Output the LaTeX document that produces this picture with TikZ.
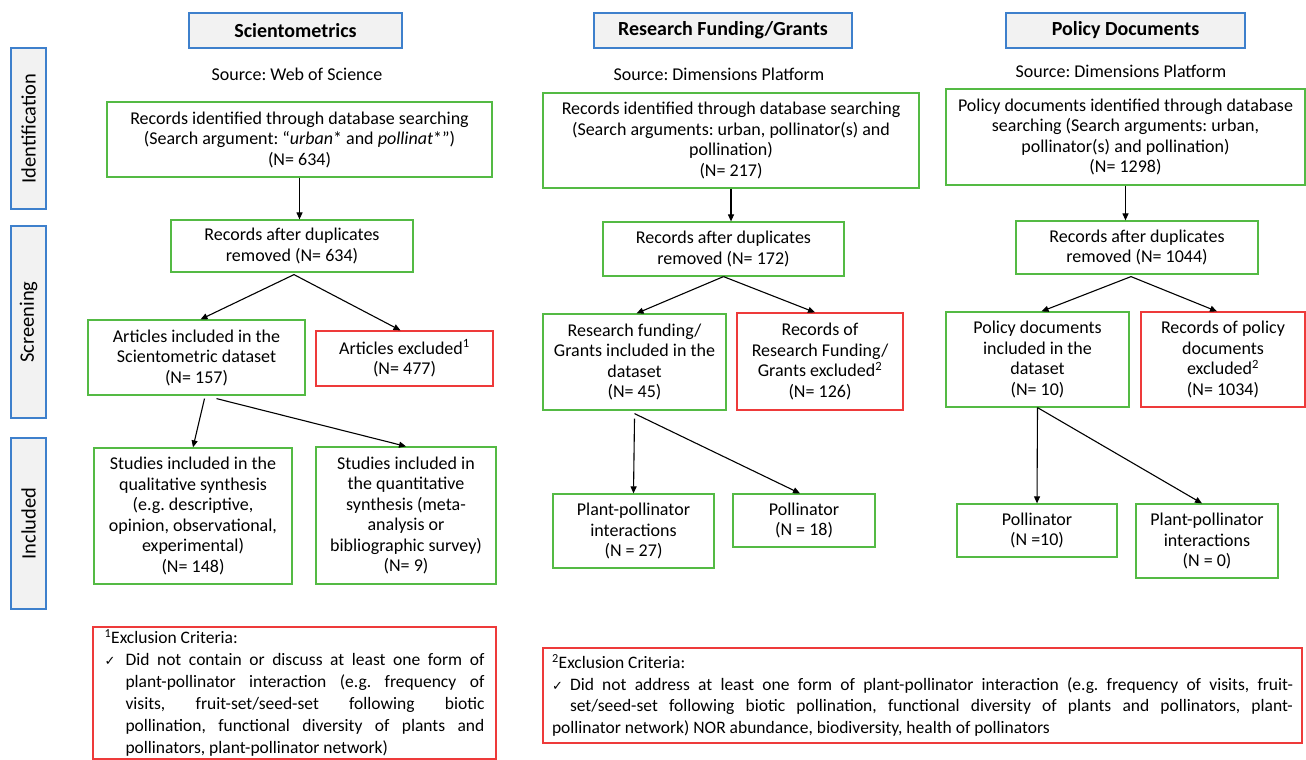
\documentclass[tikz,border=0pt]{standalone}
\usepackage{fontspec}
\setmainfont{Carlito}
\newfontfamily\chkfont{DejaVu Sans}
\usetikzlibrary{arrows.meta}
\definecolor{boxgreen}{RGB}{84,186,68}
\definecolor{boxred}{RGB}{238,58,58}
\definecolor{boxblue}{RGB}{62,128,204}
\definecolor{boxgray}{RGB}{242,242,242}
\newcommand{\chk}{{\chkfont\fontsize{13}{13}\selectfont ✓}}
\frenchspacing

\begin{document}
\begin{tikzpicture}[
	x=1pt,y=-1pt,
	font=\fontsize{18}{20.5}\selectfont,
	inc/.style={draw=boxgreen,line width=1.2pt,align=center,inner sep=0pt},
	exc/.style={draw=boxred,line width=1.2pt,align=center,inner sep=0pt},
	stage/.style={draw=boxblue,fill=boxgray,line width=1.2pt,rotate=90,inner sep=0pt,minimum height=35,font=\fontsize{20.5}{22}\selectfont},
	head/.style={draw=boxblue,fill=boxgray,line width=1.2pt,minimum height=35,inner sep=0pt,font=\fontsize{20}{22}\selectfont\bfseries},
	flow/.style={-{Triangle[length=7pt,width=6pt]},line width=1.1pt}]
\useasboundingbox (0,0) rectangle (1306,760);

% stages
\node[stage,minimum width=161] (ident) at (28.5,128.5) {Identification};
\node[stage,minimum width=192] (screen) at (28.5,322) {Screening};
\node[stage,minimum width=171] (incl) at (28.5,523.5) {Included};

% column heads
\node[head,minimum width=213] (scihead) at (295.5,30.5) {Scientometrics};
\node[head,minimum width=258] (grhead) at (723,30.5) {Research Funding/Grants};
\node[head,minimum width=239] (polhead) at (1125.5,30.5) {Policy Documents};
\node (scisrc) at (297,74) {Source: Web of Science};
\node (grsrc) at (719,74) {Source: Dimensions Platform};
\node (polsrc) at (1121,71) {Source: Dimensions Platform};

% scientometrics
\node[inc,minimum width=385,minimum height=75] (scirec) at (299.5,139.5)
	{Records identified through database searching\\(Search argument: “\textit{urban}* and \textit{pollinat}*”)\\(N= 634)};
\node[inc,minimum width=242,minimum height=52] (scidup) at (292,246)
	{Records after duplicates\\removed (N= 634)};
\node[inc,minimum width=217,minimum height=75] (sciin) at (196.5,357.5)
	{Articles included in the\\Scientometric dataset\\(N= 157)};
\node[exc,minimum width=177,minimum height=55] (sciex) at (404.5,358.5)
	{Articles excluded\textsuperscript{1}\\(N= 477)};
\node[inc,minimum width=198,minimum height=136] (sciqual) at (193,516)
	{Studies included in the\\qualitative synthesis\\(e.g. descriptive,\\opinion, observational,\\experimental)\\(N= 148)};
\node[inc,minimum width=180,minimum height=137] (sciquant) at (406,515.5)
	{Studies included in\\the quantitative\\synthesis (meta-\\analysis or\\bibliographic survey)\\(N= 9)};

\draw[flow] (scirec.south) -- (scirec.south |- scidup.north);
\draw[flow] ([xshift=2pt,yshift=-2pt]scidup.south) -- ([xshift=4pt]sciin.north);
\draw[flow] ([xshift=2pt,yshift=-2pt]scidup.south) -- ([xshift=-4pt]sciex.north);
\draw[flow] ([xshift=8pt,yshift=-3pt]sciin.south) -- (sciqual.north);
\draw[flow] ([xshift=20pt,yshift=-3pt]sciin.south) -- (sciquant.north);

% grants
\node[inc,minimum width=376,minimum height=95] (grrec) at (731,140.5)
	{Records identified through database searching\\(Search arguments: urban, pollinator(s) and\\pollination)\\(N= 217)};
\node[inc,minimum width=241,minimum height=54] (grdup) at (723.5,249)
	{Records after duplicates\\removed (N= 172)};
\node[inc,minimum width=183,minimum height=96] (grin) at (634.5,362)
	{Research funding/\\Grants included in the\\dataset\\(N= 45)};
\node[exc,minimum width=166,minimum height=97] (grex) at (820,361.5)
	{Records of\\Research Funding/\\Grants excluded\textsuperscript{2}\\(N= 126)};
\node[inc,minimum width=161,minimum height=74] (grplant) at (633.5,531)
	{Plant-pollinator\\interactions\\(N = 27)};
\node[inc,minimum width=142,minimum height=53] (grpoll) at (804,520.5)
	{Pollinator\\(N = 18)};

\draw[flow] (grrec.south) -- (grrec.south |- grdup.north);
\draw[flow] (grdup.south) -- ([xshift=2pt]grin.north);
\draw[flow] (grdup.south) -- ([xshift=-5pt]grex.north);
\draw[flow] ([yshift=-8pt]grin.south) -- (grplant.north);
\draw[flow] ([yshift=-3pt]grin.south) -- ([xshift=-4pt]grpoll.north);

% policy documents
\node[inc,minimum width=359,minimum height=96] (polrec) at (1125.5,137)
	{Policy documents identified through database\\searching (Search arguments: urban,\\pollinator(s) and pollination)\\(N= 1298)};
\node[inc,minimum width=242,minimum height=53] (poldup) at (1137,247.5)
	{Records after duplicates\\removed (N= 1044)};
\node[inc,minimum width=183,minimum height=95] (polin) at (1037.5,359.5)
	{Policy documents\\included in the\\dataset\\(N= 10)};
\node[exc,minimum width=164,minimum height=95] (polex) at (1223,359.5)
	{Records of policy\\documents\\excluded\textsuperscript{2}\\(N= 1034)};
\node[inc,minimum width=160,minimum height=53] (polpoll) at (1037,530.5)
	{Pollinator\\(N =10)};
\node[inc,minimum width=142,minimum height=74] (polplant) at (1207,541)
	{Plant-pollinator\\interactions\\(N = 0)};

\draw[flow] (polrec.south) -- (polrec.south |- poldup.north);
\draw[flow] ([xshift=-6pt,yshift=-2pt]poldup.south) -- ([xshift=4pt]polin.north);
\draw[flow] ([xshift=-6pt,yshift=-2pt]poldup.south) -- ([xshift=-6pt]polex.north);
\draw[flow] (polin.south) -- (polpoll.north);
\draw[flow] (polin.south) -- ([xshift=-5pt]polplant.north);

% exclusion criteria
\node[exc,inner xsep=11.5pt,minimum height=132,font=\fontsize{17.5}{22}\selectfont] (crit1) at (294.5,693)
	{\begin{minipage}{380pt}
	\textsuperscript{1}Exclusion Criteria:\par
	\leftskip=21pt\noindent\llap{\makebox[21pt][l]{\chk}}Did not contain or discuss at least one form of\linebreak
	plant-pollinator interaction (e.g. frequency of\linebreak
	visits, fruit-set/seed-set following biotic\linebreak
	pollination, functional diversity of plants and\linebreak
	pollinators, plant-pollinator network)
	\end{minipage}};
\node[exc,inner xsep=9pt,minimum height=95,font=\fontsize{17.5}{21.5}\selectfont] (crit2) at (922.5,695.5)
	{\begin{minipage}{741pt}
	\textsuperscript{2}Exclusion Criteria:\\
	\hspace*{18pt}\llap{\makebox[18pt][l]{\chk}}\makebox[723pt][s]{Did not address at least one form of plant-pollinator interaction (e.g. frequency of visits, fruit-}\\
	\hspace*{18pt}\makebox[723pt][s]{set/seed-set following biotic pollination, functional diversity of plants and pollinators, plant-}\\
	pollinator network) NOR abundance, biodiversity, health of pollinators
	\end{minipage}};
\end{tikzpicture}
\end{document}
